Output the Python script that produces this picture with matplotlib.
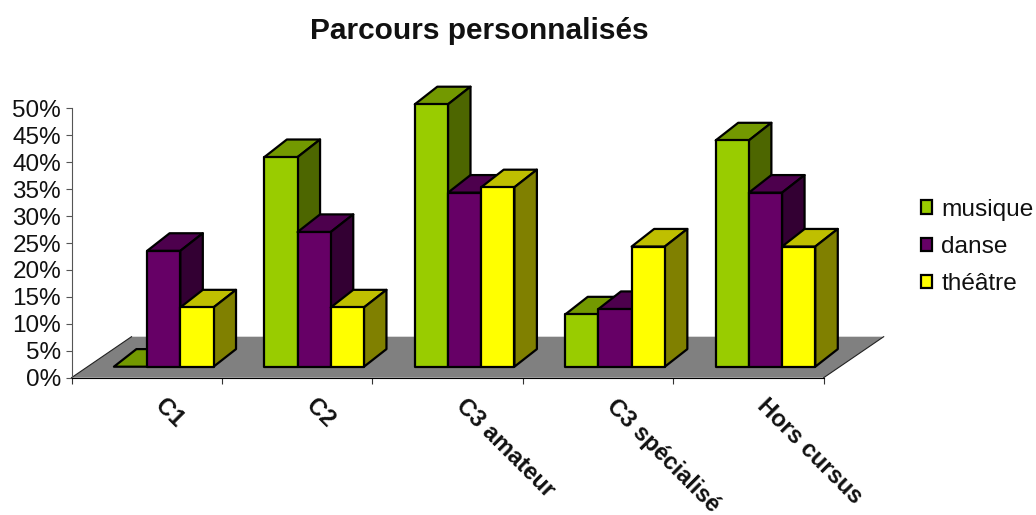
import matplotlib
matplotlib.use("Agg")
import matplotlib.pyplot as plt
from matplotlib.patches import Polygon, Patch

plt.rcParams['font.family'] = ['Liberation Sans', 'DejaVu Sans']

categories = ["C1", "C2", "C3 amateur", "C3 spécialisé", "Hors cursus"]
series = ["musique", "danse", "théâtre"]
musique = [0, 38.9, 48.7, 9.7, 42]
danse = [21.5, 25, 32.3, 10.7, 32.3]
theatre = [11, 11, 33.3, 22.3, 22.3]
yticks = [0, 5, 10, 15, 20, 25, 30, 35, 40, 45, 50]

front_colors = ["#99CC00", "#660066", "#FFFF00"]
top_colors = ["#739900", "#4D004D", "#BFBF00"]
side_colors = ["#4D6600", "#330033", "#808000"]

W, H = 1036, 515
fig = plt.figure(figsize=(W / 100, H / 100), dpi=100)
# axes box in pixels: x 71.5-823.7, y 108.3-377.7
ax = fig.add_axes([71.5 / W, 1 - 377.7 / H, (823.7 - 71.5) / W, (377.7 - 108.3) / H])
ax.set_xlim(0, 5)
ax.set_ylim(0, 50)

# fake 3d offsets, in data units
px_x = 5 / (823.7 - 71.5)
px_y = 50 / (377.7 - 108.3)
floor_dx, floor_dy = 60 * px_x, 41 * px_y
base_dx, base_dy = 17 * px_x, 11 * px_y
depth_dx, depth_dy = 22.5 * px_x, 17.6 * px_y
bar_w = 33.2 * px_x
group_w = bar_w * 3


def poly(pts, color, lw=1.6, z=3):
    ax.add_patch(Polygon(pts, closed=True, facecolor=color, edgecolor="black",
                         linewidth=lw, joinstyle="round", clip_on=False, zorder=z))


# floor
ax.add_patch(Polygon([(0, 0), (5, 0), (5 + floor_dx, floor_dy), (floor_dx, floor_dy)],
                     closed=True, facecolor="#808080", edgecolor="none", clip_on=False, zorder=1))
ax.plot([0, floor_dx], [0, floor_dy], color="#222222", lw=0.8, clip_on=False, zorder=2)
ax.plot([5, 5 + floor_dx], [0, floor_dy], color="#222222", lw=0.8, clip_on=False, zorder=2)

values = [musique, danse, theatre]
for i in range(len(categories)):
    x0 = i + 0.5 - group_w / 2 + base_dx
    for s in range(len(series)):
        l = x0 + s * bar_w
        r = l + bar_w
        b = base_dy
        t = base_dy + values[s][i]
        poly([(l, t), (r, t), (r + depth_dx, t + depth_dy), (l + depth_dx, t + depth_dy)], top_colors[s])
        if values[s][i] > 0:
            poly([(r, b), (r + depth_dx, b + depth_dy), (r + depth_dx, t + depth_dy), (r, t)], side_colors[s])
            poly([(l, b), (r, b), (r, t), (l, t)], front_colors[s])

# axes
ax.spines['top'].set_visible(False)
ax.spines['right'].set_visible(False)
ax.spines['left'].set_color("#555555")
ax.spines['left'].set_zorder(2)
ax.spines['bottom'].set_zorder(2)
ax.set_yticks(yticks)
ax.set_yticklabels([str(v) + "%" for v in yticks], fontsize=17.5, color="#111111")
ax.tick_params(axis='y', length=4.5, width=0.8, color="#555555", pad=3)
ax.set_xticks(range(0, 6))
ax.set_xticklabels([])
ax.tick_params(axis='x', length=4.5, width=0.8, color="#333333")
ax.patch.set_visible(False)

for i, name in enumerate(categories):
    ax.annotate(name, xy=(i + 0.5, 0), xycoords='data', xytext=(12, -25), textcoords='offset pixels',
                rotation=-45, rotation_mode='anchor', ha='left', va='center',
                fontsize=17, fontweight='bold', color="#111111", annotation_clip=False)

fig.text(479 / W, 1 - 31 / H, "Parcours personnalisés", ha='center', va='center',
         fontsize=21.5, fontweight='bold', color="#111111")

handles = [Patch(facecolor=c, edgecolor="black", linewidth=1.6) for c in front_colors]
fig.legend(handles, series, loc='center left', bbox_to_anchor=(921 / W, 1 - 247 / H), frameon=False,
           fontsize=17.6, handlelength=0.47, handleheight=0.47, handletextpad=0.36,
           labelspacing=0.62, borderpad=0, borderaxespad=0, labelcolor="#111111")

fig.savefig("out.png", dpi=100)
